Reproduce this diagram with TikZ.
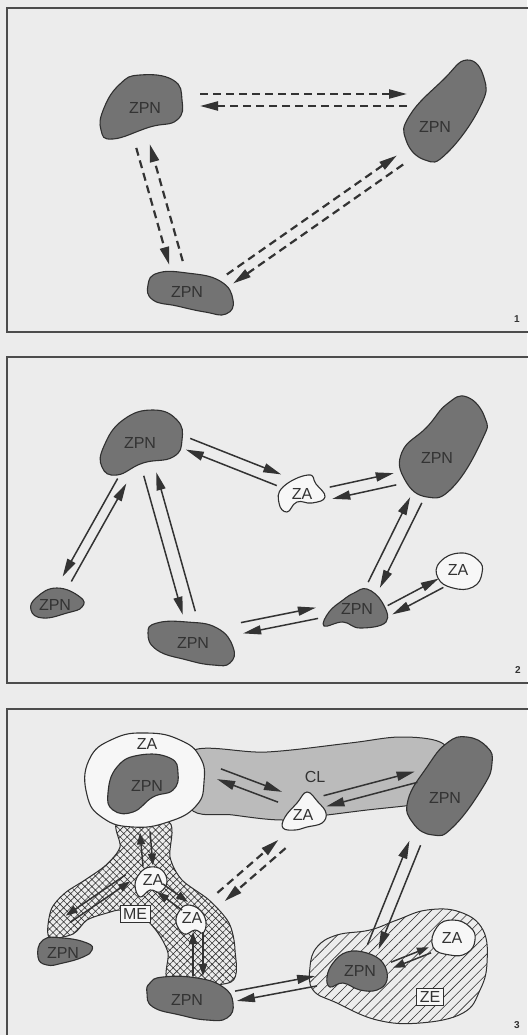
\documentclass[tikz,border=0pt]{standalone}
\usepackage{fontspec}
\setmainfont{Liberation Sans}
\usepackage{tikz}
\usetikzlibrary{arrows.meta, calc, patterns.meta}
\definecolor{paperBg}{HTML}{ECECEC}
\definecolor{blobFill}{HTML}{737373}
\definecolor{blobStroke}{HTML}{303030}
\definecolor{bandFill}{HTML}{BBBBBB}
\definecolor{zaFill}{HTML}{F7F7F7}
\definecolor{inkGray}{HTML}{333333}
\tikzset{
  zpn/.style={fill=blobFill, draw=blobStroke, line width=1.1pt},
  za/.style={fill=zaFill, draw=blobStroke, line width=1.1pt},
  band/.style={fill=bandFill, draw=blobStroke, line width=1pt},
  mesh/.style={pattern={Hatch[angle=45,distance=5pt,line width=0.6pt]},
    pattern color=blobStroke, draw=blobStroke, line width=1pt},
  stripes/.style={pattern={Lines[angle=45,distance=7pt,line width=0.6pt]},
    pattern color=blobStroke, draw=blobStroke, line width=1pt},
  lbl/.style={font=\fontsize{16}{16}\selectfont, text=inkGray, inner sep=1pt},
  tag/.style={lbl, draw=blobStroke, fill=zaFill, line width=1pt, inner sep=3pt},
  frame/.style={draw=black!70, line width=1.4pt},
  link/.style={-{Triangle[length=18pt,width=9pt]}, draw=inkGray, line width=1.5pt},
  dashlink/.style={dash pattern=on 8pt off 5pt, line width=2.2pt},
  shortlink/.style={-{Triangle[length=12pt,width=8pt]}},
  panelno/.style={font=\bfseries\fontsize{10}{10}\selectfont, text=inkGray},
}
% two opposite arrows side by side: style, node, shift, node, shift, offset
\newcommand{\twoway}[6][]{%
  \path ([shift={#3}]#2) coordinate (pa) ([shift={#5}]#4) coordinate (pb);
  \draw[link, #1] ($(pa)!#6!90:(pb)$) -- ($(pb)!#6!-90:(pa)$);
  \draw[link, #1] ($(pb)!#6!90:(pa)$) -- ($(pa)!#6!-90:(pb)$);
}

\begin{document}
\begin{tikzpicture}[x=1pt, y=-1pt]
  \useasboundingbox (0,0) rectangle (527,1035);
  \fill[paperBg] (0,0) rectangle (527,1035);

  % frames
  \draw[frame] (7,8) rectangle (540,332);
  \draw[frame] (7,357) rectangle (540,683);
  \draw[frame] (7,709) rectangle (540,1050);
  \node[panelno] (n1) at (517,319) {1};
  \node[panelno] (n2) at (518,670) {2};
  \node[panelno] (n3) at (517,1025) {3};

  % panel 1
  \draw[zpn] plot[smooth cycle, tension=0.8] coordinates
    {(140,75) (173,80) (182,100) (177,120) (150,127) (113,139) (101,130) (104,108) (120,84)};
  \draw[zpn] plot[smooth cycle, tension=0.8] coordinates
    {(467,60) (484,78) (480,107) (447,153) (425,160) (406,140) (410,115) (443,80)};
  \draw[zpn] plot[smooth cycle, tension=0.8] coordinates
    {(148,285) (158,273) (187,273) (220,281) (233,300) (226,314) (205,312) (177,306) (153,300)};
  \node[lbl] (zA) at (145,108) {ZPN};
  \node[lbl] (zB) at (435,127) {ZPN};
  \node[lbl] (zC) at (187,292) {ZPN};

  \twoway[dashlink]{zA}{(55,-8)}{zB}{(-28,-27)}{6pt}
  \twoway[dashlink]{zA}{(-2,38)}{zC}{(-11,-29)}{-7pt}
  \twoway[dashlink]{zC}{(43,-13)}{zB}{(-35,33)}{5.5pt}

  % panel 2
  \draw[zpn] plot[smooth cycle, tension=0.8] coordinates
    {(153,410) (177,420) (182,440) (173,457) (143,463) (117,475) (102,467) (104,446) (123,420)};
  \draw[zpn] plot[smooth cycle, tension=0.8] coordinates
    {(467,397) (485,418) (482,440) (453,487) (427,497) (405,480) (402,452) (427,427) (447,404)};
  \draw[za] plot[smooth cycle, tension=0.8] coordinates
    {(308,475) (316,484) (325,497) (312,503) (297,502) (287,512) (279,503) (283,487)};
  \draw[zpn] plot[smooth cycle, tension=0.8] coordinates
    {(37,597) (57,588) (80,597) (82,607) (67,613) (43,618) (31,610)};
  \draw[zpn] plot[smooth cycle, tension=0.8] coordinates
    {(157,623) (187,622) (217,628) (233,647) (230,663) (213,665) (187,660) (157,650) (148,633)};
  \draw[zpn] plot[smooth cycle, tension=0.7] coordinates
    {(367,589) (382,602) (386,622) (360,628) (343,622) (324,626) (329,612) (343,600) (354,593)};
  \draw[za] plot[smooth cycle, tension=0.8] coordinates
    {(440,562) (460,553) (478,560) (482,573) (473,587) (453,588) (438,578)};
  \node[lbl] (p1) at (140,443) {ZPN};
  \node[lbl] (p2) at (437,458) {ZPN};
  \node[lbl] (a1) at (302,494) {ZA};
  \node[lbl] (p3) at (55,605) {ZPN};
  \node[lbl] (p4) at (193,643) {ZPN};
  \node[lbl] (p5) at (357,609) {ZPN};
  \node[lbl] (a2) at (458,570) {ZA};

  \twoway{p1}{(48,1)}{a1}{(-23,-14)}{6pt}
  \twoway{a1}{(29,-1)}{p2}{(-42,21)}{6pt}
  \twoway{p1}{(-18,38)}{p3}{(12,-26)}{-5pt}
  \twoway{p1}{(10,31)}{p4}{(-4,-30)}{-6.5pt}
  \twoway{p4}{(49,-15)}{p5}{(-40,4)}{5.5pt}
  \twoway{p2}{(-21,42)}{p5}{(17,-24)}{6.5pt}
  \twoway{p5}{(33,1)}{a2}{(-17,13)}{5pt}

  % panel 3
  \draw[band] plot[smooth cycle, tension=0.6] coordinates
    {(190,752) (267,752) (350,743) (400,737) (440,742) (450,760) (445,800) (413,805)
     (367,810) (327,815) (283,820) (233,815) (190,808)};
  \draw[mesh] plot[smooth cycle, tension=0.5] coordinates
    {(118,822) (120,847) (106,865) (85,880) (65,893) (51,910) (49,937) (73,934) (87,920)
     (107,913) (122,910) (143,917) (158,933) (168,953) (170,983) (231,982) (235,950)
     (229,923) (209,900) (182,880) (170,857) (169,822)};
  \draw[stripes] plot[smooth cycle, tension=0.7] coordinates
    {(317,947) (337,935) (370,930) (397,920) (427,910) (460,912) (483,930) (487,963)
     (480,990) (463,1013) (420,1023) (377,1020) (337,1003) (313,990) (310,967)};
  \draw[za] plot[smooth cycle, tension=0.8] coordinates
    {(147,733) (180,740) (200,757) (204,782) (196,806) (168,822) (133,827) (103,818)
     (87,795) (89,760) (113,739)};
  \draw[zpn] plot[smooth cycle, tension=0.8] coordinates
    {(140,755) (170,758) (178,773) (173,790) (153,797) (133,812) (113,810) (108,793) (117,767)};
  \draw[zpn] plot[smooth cycle, tension=0.8] coordinates
    {(467,737) (487,747) (492,763) (483,787) (453,827) (433,835) (413,823) (408,800)
     (427,767) (447,743)};
  \draw[za] plot[smooth cycle, tension=0.7] coordinates
    {(307,792) (318,802) (326,813) (322,823) (307,827) (295,830) (283,828) (285,817) (297,803)};
  \draw[za] plot[smooth cycle, tension=0.7] coordinates
    {(150,867) (162,870) (167,882) (160,892) (150,890) (140,897) (135,885) (140,873)};
  \draw[za] plot[smooth cycle, tension=0.7] coordinates
    {(188,905) (200,910) (206,922) (203,933) (195,930) (184,934) (176,922) (180,910)};
  \draw[zpn] plot[smooth cycle, tension=0.8] coordinates
    {(43,940) (63,938) (87,943) (92,950) (83,957) (63,963) (47,965) (38,957)};
  \draw[zpn] plot[smooth cycle, tension=0.8] coordinates
    {(150,983) (163,977) (197,978) (223,987) (233,1003) (227,1018) (207,1020) (180,1015)
     (153,1007) (147,993)};
  \draw[zpn] plot[smooth cycle, tension=0.7] coordinates
    {(347,952) (367,953) (383,963) (387,980) (377,990) (360,990) (343,983) (330,987)
     (327,977) (333,963)};
  \draw[za] plot[smooth cycle, tension=0.8] coordinates
    {(437,927) (453,920) (470,927) (475,940) (467,953) (450,955) (433,947)};
  \node[lbl] (za0) at (147,744) {ZA};
  \node[lbl] (q1) at (147,786) {ZPN};
  \node[lbl] (cl) at (315,777) {CL};
  \node[lbl] (a3) at (303,815) {ZA};
  \node[lbl] (q2) at (445,798) {ZPN};
  \node[lbl] (a4) at (153,880) {ZA};
  \node[lbl] (a5) at (192,918) {ZA};
  \node[tag] (me) at (135,914) {ME};
  \node[lbl] (q3) at (63,953) {ZPN};
  \node[lbl] (q4) at (187,1000) {ZPN};
  \node[lbl] (q5) at (360,971) {ZPN};
  \node[lbl] (a6) at (452,938) {ZA};
  \node[tag] (ze) at (430,997) {ZE};

  \twoway{q1}{(72,-12)}{a3}{(-23,-18)}{5.5pt}
  \twoway{a3}{(22,-14)}{q2}{(-29,-21)}{5.5pt}
  \twoway[dashlink]{me}{(86,-17)}{a3}{(-21,29)}{5.5pt}
  \twoway{q2}{(-30,45)}{q5}{(13,-24)}{6pt}
  \twoway{q4}{(49,-4)}{q5}{(-44,10)}{5pt}
  \twoway[shortlink]{q5}{(32,-6)}{a6}{(-22,12)}{3pt}
  \twoway[shortlink]{q1}{(-2,46)}{a4}{(-5,-14)}{5pt}
  \twoway[shortlink]{a4}{(-25,-2)}{q3}{(5,-34)}{-4pt}
  \twoway[shortlink]{a4}{(7,8)}{a5}{(-7,-12)}{5pt}
  \twoway[shortlink]{a5}{(6,14)}{q4}{(11,-24)}{5pt}
\end{tikzpicture}
\end{document}
